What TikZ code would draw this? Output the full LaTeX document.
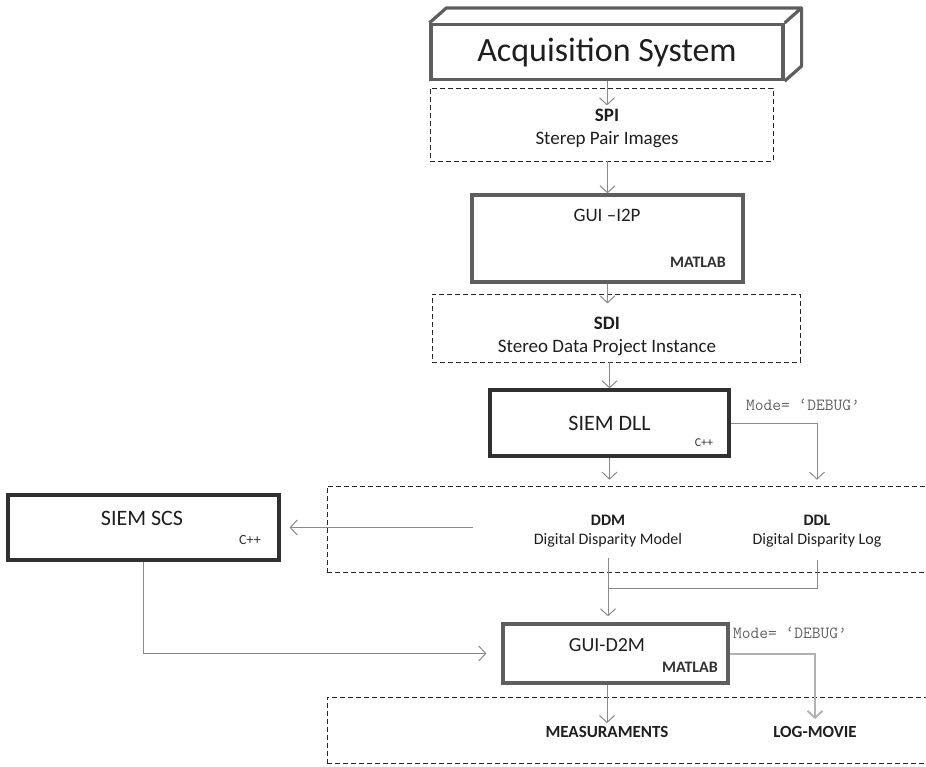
\documentclass[tikz,border=0pt]{standalone}
\usepackage{fontspec}
\setmainfont{Carlito}
\usepackage{tikz}
\usetikzlibrary{positioning}
\usetikzlibrary{arrows.meta}

\definecolor{boxgray}{HTML}{5E5E5E}
\definecolor{boxdark}{HTML}{303030}
\definecolor{linkgray}{HTML}{8A8A8A}
\definecolor{textdark}{HTML}{1E1E1E}

\begin{document}
\begin{tikzpicture}[x = 1pt, y = -1pt, font = \fontsize{19}{23}\selectfont,
    every node/.style = {text = textdark, inner sep = 3pt},
    unitbox/.style = {draw = boxgray, line width = 3.2pt, inner sep = 0pt},
    dashframe/.style = {draw = black!85, line width = .8pt, dash pattern = on 5pt off 3pt, inner sep = 0pt},
    langtag/.style = {font = \fontsize{16}{18}\selectfont\bfseries, text = boxdark},
    ctag/.style = {font = \fontsize{#1}{#1}\selectfont, text = boxdark},
    modetext/.style = {font = \fontsize{17}{19}\ttfamily, text = black!62},
    flow/.style = {draw = linkgray, line width = 1pt, -{Straight Barb[length = 7pt, width = 15pt]}}]

  \clip (0,0) rectangle (926,766);

  \node[unitbox, minimum width = 352pt, minimum height = 55pt, font = \fontsize{34}{40}\selectfont] (acq) at (607,52) {Acquisition System};
  \draw[draw = boxgray, line width = 3.2pt, line join = round]
    (acq.north west) -- ++(17,-15) -| ([shift = {(17,-15)}]acq.south east) -- (acq.south east)
    (acq.north east) -- ++(17,-15);

  \node[dashframe, minimum width = 343pt, minimum height = 73pt] (spibox) at (601.5,124.5) {};
  \node[align = center] (spi) at (607,128) {\textbf{SPI}\\Sterep Pair Images};
  \draw[flow] (acq.south) -- (spi.north);

  \node[unitbox, minimum width = 271pt, minimum height = 87pt] (gui) at (607.5,238.5) {};
  \node (guiname) at (607,215) {GUI –I2P};
  \node[langtag] (guilang) at (698,262) {MATLAB};
  \draw[flow] (gui.north |- spibox.south) -- (gui.north);

  \node[dashframe, minimum width = 368pt, minimum height = 68pt] (sdibox) at (616,328) {};
  \node[align = center] (sdi) at (607,336) {\textbf{SDI}\\Stereo Data Project Instance};
  \draw[flow, shorten >= 10pt] (gui.south) -- (gui.south |- sdi.north);

  \node[unitbox, draw = boxdark, minimum width = 239pt, minimum height = 66pt, font = \fontsize{22}{26}\selectfont] (dll) at (609.5,423) {SIEM DLL};
  \node[ctag = 12] (dllcode) at (704,443) {C++};
  \draw[flow] (dll.north |- sdibox.south) -- (dll.north);
  \node[modetext] (dllmode) at (803,405) {Mode= ‘DEBUG’};

  \node[dashframe, minimum width = 640pt, minimum height = 86pt, anchor = north west] (ddbox) at (327,486) {};
  \node[align = center, font = \fontsize{16}{19}\selectfont] (ddm) at (608,531) {\textbf{DDM}\\Digital Disparity Model};
  \node[align = center, font = \fontsize{16}{19}\selectfont] (ddl) at (817,531) {\textbf{DDL}\\Digital Disparity Log};
  \draw[flow, shorten >= 32pt] (dll.south) -- (dll.south |- ddm.north);
  \draw[flow, draw = black!45, shorten >= 32pt] (dll.east) -| (ddl.north);

  \node[unitbox, draw = boxdark, minimum width = 271pt, minimum height = 65pt] (scs) at (143.5,527.5) {};
  \node[font = \fontsize{22}{26}\selectfont] (scsname) at (142,518) {SIEM SCS};
  \node[ctag = 14] (scscode) at (250,540) {C++};
  \draw[flow, shorten <= 58pt, shorten >= 9pt] (ddm.west |- scs.east) -- (scs.east);

  \node[unitbox, minimum width = 225pt, minimum height = 59pt] (d2m) at (615.5,653.5) {};
  \node[font = \fontsize{20}{24}\selectfont] (d2mname) at (607,645) {GUI-D2M};
  \node[langtag] (d2mlang) at (690,667) {MATLAB};
  \coordinate (merge) at (608,588);
  \draw[draw = linkgray, line width = 1pt, shorten <= 10pt] (ddl.south) |- (merge);
  \draw[flow, shorten <= 8pt, shorten >= 6pt] (ddm.south) -- (ddm.south |- d2m.north);
  \draw[flow, shorten >= 15pt] (scs.south) |- (d2m.west);
  \node[modetext] (d2mmode) at (790,633) {Mode= ‘DEBUG’};

  \node[dashframe, minimum width = 640pt, minimum height = 66pt, anchor = north west] (outbox) at (327,697) {};
  \node[font = \fontsize{17}{20}\selectfont\bfseries] (meas) at (607,732) {MEASURAMENTS};
  \node[font = \fontsize{17}{20}\selectfont\bfseries] (logm) at (815,732) {LOG-MOVIE};
  \draw[flow] (meas.north |- d2m.south) -- (meas.north);
  \draw[flow, draw = black!30, line width = 2pt, shorten >= 4pt] (d2m.east) -| (logm.north);
\end{tikzpicture}
\end{document}
